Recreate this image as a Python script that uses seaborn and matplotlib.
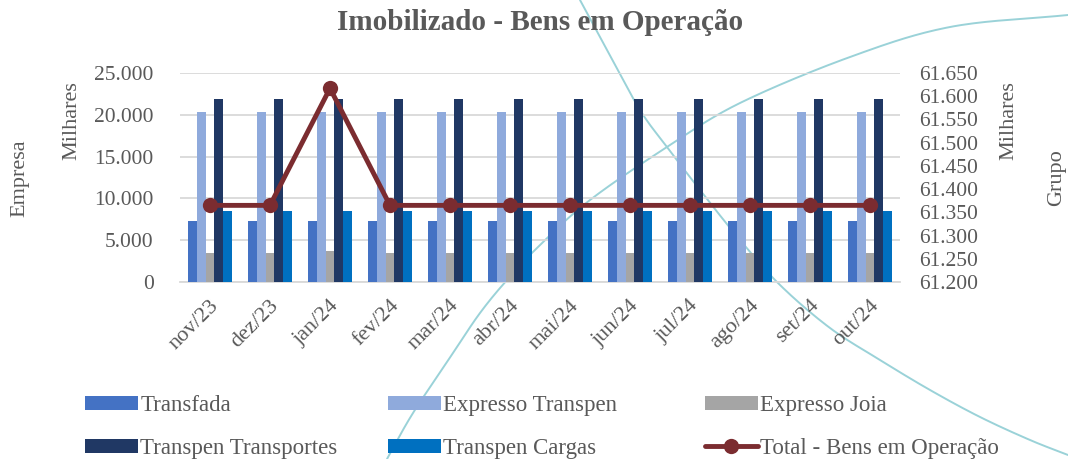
import numpy as np
import pandas as pd
import matplotlib
matplotlib.use("Agg")
import matplotlib.pyplot as plt
import matplotlib.transforms as mtransforms
import seaborn as sns
from matplotlib.ticker import FuncFormatter, MultipleLocator, FixedLocator
from matplotlib.lines import Line2D
from matplotlib.patches import Patch

# ---------------- data (values in thousands) ----------------
months = ["nov/23", "dez/23", "jan/24", "fev/24", "mar/24", "abr/24",
          "mai/24", "jun/24", "jul/24", "ago/24", "set/24", "out/24"]
transfada = [7330, 7330, 7330, 7330, 7330, 7330, 7330, 7330, 7330, 7330, 7330, 7330]
expresso_transpen = [20350, 20350, 20350, 20350, 20350, 20350, 20350, 20350, 20350, 20350, 20350, 20350]
expresso_joia = [3480, 3480, 3730, 3480, 3480, 3480, 3480, 3480, 3480, 3480, 3480, 3480]
transpen_transportes = [21870, 21870, 21870, 21870, 21870, 21870, 21870, 21870, 21870, 21870, 21870, 21870]
transpen_cargas = [8500, 8500, 8500, 8500, 8500, 8500, 8500, 8500, 8500, 8500, 8500, 8500]
total_bens = [61365, 61365, 61617, 61365, 61365, 61365, 61365, 61365, 61365, 61365, 61365, 61365]

series_names = ["Transfada", "Expresso Transpen", "Expresso Joia",
                "Transpen Transportes", "Transpen Cargas"]
series_values = [transfada, expresso_transpen, expresso_joia,
                 transpen_transportes, transpen_cargas]
line_name = "Total - Bens em Operação"

colors = ["#4472C4", "#8FAADC", "#A5A5A5", "#203864", "#0070C0"]
line_color = "#7B2C30"
text_color = "#595959"
grid_color = "#D9D9D9"
deco_color = "#9AD2D8"

rows = []
for name, vals in zip(series_names, series_values):
    for m, v in zip(months, vals):
        rows.append({"Mês": m, "Série": name, "Valor": v})
df = pd.DataFrame(rows)
df_total = pd.DataFrame({"pos": np.arange(len(months)), "Valor": total_bens})

# ---------------- style ----------------
sns.set_theme(style="white")
plt.rcParams["font.family"] = ["Liberation Serif", "DejaVu Serif"]
plt.rcParams["text.color"] = text_color

W, H = 1068, 459
fig = plt.figure(figsize=(W / 100, H / 100), dpi=100)
fig.patch.set_facecolor("white")

# decorative background curves
bg = fig.add_axes([0, 0, 1, 1], zorder=-5)
bg.set_xlim(0, W)
bg.set_ylim(H, 0)
bg.axis("off")


def catmull(pts, n=30):
    pts = np.asarray(pts, float)
    p = np.vstack([pts[0] * 2 - pts[1], pts, pts[-1] * 2 - pts[-2]])
    out = []
    for i in range(1, len(p) - 2):
        p0, p1, p2, p3 = p[i - 1], p[i], p[i + 1], p[i + 2]
        t = np.linspace(0, 1, n)[:, None]
        out.append(0.5 * ((2 * p1) + (-p0 + p2) * t + (2 * p0 - 5 * p1 + 4 * p2 - p3) * t ** 2
                          + (-p0 + 3 * p1 - 3 * p2 + p3) * t ** 3))
    return np.vstack(out)


curve_a = catmull([(580, 0), (607, 50), (640, 110), (667, 147), (700, 190), (740, 240),
                   (780, 285), (830, 328), (880, 360), (930, 390), (980, 417),
                   (1030, 440), (1068, 455)])
curve_b = catmull([(1068, 15), (950, 27), (850, 57), (740, 103), (667, 147), (590, 200),
                   (540, 245), (507, 280), (480, 313), (453, 353), (413, 413), (387, 459)])
for c in (curve_a, curve_b):
    bg.plot(c[:, 0], c[:, 1], color=deco_color, lw=1.4, solid_capstyle="round")

# main axes
left, right, top, bottom = 180, 900, 73, 282
ax = fig.add_axes([left / W, 1 - bottom / H, (right - left) / W, (bottom - top) / H])
ax.set_facecolor("none")

sns.barplot(data=df, x="Mês", y="Valor", hue="Série", hue_order=series_names,
            order=months, palette=colors, saturation=1, width=0.72,
            linewidth=0, legend=False, ax=ax, zorder=3)

ax.set_ylim(0, 25000)
ax.yaxis.set_major_locator(MultipleLocator(5000))
fmt = FuncFormatter(lambda v, p: f"{v:,.0f}".replace(",", "."))
ax.yaxis.set_major_formatter(fmt)
ax.set_xlim(-0.5, len(months) - 0.5)
ax.grid(axis="y", color=grid_color, lw=1.3, zorder=0)
ax.set_axisbelow(True)
for s in ["top", "left", "right"]:
    ax.spines[s].set_visible(False)
ax.spines["bottom"].set_color(grid_color)
ax.spines["bottom"].set_linewidth(1.3)
ax.set_xlabel("")
ax.set_ylabel("")
ax.tick_params(axis="y", length=0, pad=19, labelsize=15.5, labelcolor=text_color)
ax.tick_params(axis="x", which="major", length=0, pad=15, labelsize=16, labelcolor=text_color)
ax.xaxis.set_minor_locator(FixedLocator(np.arange(-0.5, len(months), 1.0)))
ax.tick_params(axis="x", which="minor", length=6, width=1.3, color=grid_color, direction="out")
offset = mtransforms.ScaledTranslation(6 / 100, 0, fig.dpi_scale_trans)
for lab in ax.get_xticklabels():
    lab.set_rotation(45)
    lab.set_ha("right")
    lab.set_va("center")
    lab.set_rotation_mode("anchor")
    lab.set_transform(lab.get_transform() + offset)

ax2 = ax.twinx()
sns.lineplot(data=df_total, x="pos", y="Valor", color=line_color, lw=3.5,
             marker="o", markersize=11, markeredgewidth=0, ax=ax2, zorder=5)
ax2.set_ylim(61200, 61650)
ax2.yaxis.set_major_locator(MultipleLocator(50))
ax2.yaxis.set_major_formatter(fmt)
for s in ["top", "left", "right", "bottom"]:
    ax2.spines[s].set_visible(False)
ax2.set_ylabel("")
ax2.set_xlabel("")
ax2.tick_params(axis="y", length=0, pad=14, labelsize=15.5, labelcolor=text_color)
ax2.grid(False)
ax.set_xlim(-0.5, len(months) - 0.5)

# titles and axis labels
fig.text(540 / W, 1 - 23 / H, "Imobilizado - Bens em Operação", ha="center", va="center",
         fontsize=21, fontweight="bold", color=text_color)
fig.text(20 / W, 1 - 178 / H, "Empresa", rotation=90, ha="center", va="center",
         fontsize=16, color=text_color)
fig.text(72 / W, 1 - 121 / H, "Milhares", rotation=90, ha="center", va="center",
         fontsize=16, color=text_color)
fig.text(1009 / W, 1 - 121 / H, "Milhares", rotation=90, ha="center", va="center",
         fontsize=16, color=text_color)
fig.text(1057 / W, 1 - 178 / H, "Grupo", rotation=90, ha="center", va="center",
         fontsize=16, color=text_color)

# legend: three columns of two entries
handles = [Patch(facecolor=c, edgecolor="none") for c in colors]
handles.append(Line2D([0], [0], color=line_color, lw=3.5, marker="o", markersize=11,
                      markeredgewidth=0))
labels = series_names + [line_name]
col_x = [85, 388, 705]
col_items = [[0, 3], [1, 4], [2, 5]]
for xpos, items in zip(col_x, col_items):
    leg = fig.legend([handles[i] for i in items], [labels[i] for i in items],
                     loc="upper left", bbox_to_anchor=(xpos / W, 1 - 395 / H),
                     frameon=False, fontsize=16.5, handlelength=2.3, handleheight=0.55,
                     handletextpad=0.12, labelspacing=0.95, borderpad=0, borderaxespad=0)
    for t in leg.get_texts():
        t.set_color(text_color)

fig.savefig("out.png", dpi=100, facecolor="white")
